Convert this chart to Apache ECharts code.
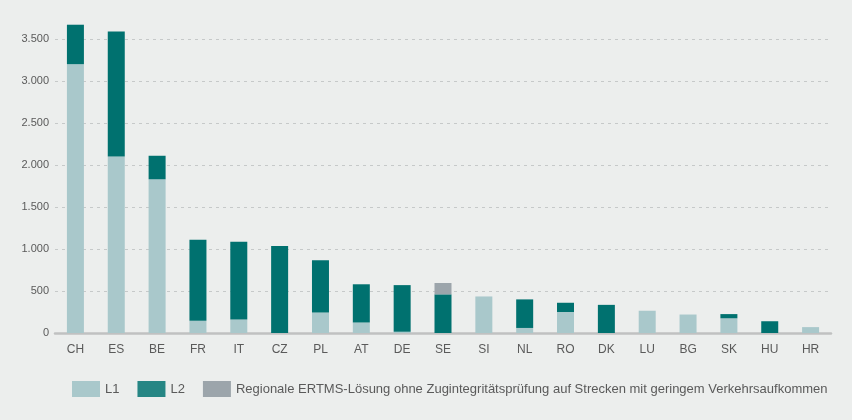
<!DOCTYPE html>
<html>
<head>
<meta charset="utf-8">
<script src="https://cdn.jsdelivr.net/npm/echarts@6/dist/echarts.min.js"></script>
<style>
    html, body { margin: 0; padding: 0; background: #eceeed; }
    #chart { width: 852px; height: 420px; }
</style>
</head>
<body>
<div id="chart"></div>
<script>
// countries, values in km
const countries = ['CH', 'ES', 'BE', 'FR', 'IT', 'CZ', 'PL', 'AT', 'DE', 'SE', 'SI', 'NL', 'RO', 'DK', 'LU', 'BG', 'SK', 'HU', 'HR'];
const l1Values = [3200, 2100, 1830, 145, 160, 0, 245, 125, 15, 0, 435, 60, 250, 0, 265, 220, 175, 0, 70];
const l2Values = [470, 1490, 280, 965, 925, 1035, 620, 455, 555, 460, 0, 340, 110, 335, 0, 0, 50, 140, 0];
const regionalValues = [0, 0, 0, 0, 0, 0, 0, 0, 0, 135, 0, 0, 0, 0, 0, 0, 0, 0, 0];
const seriesNames = ['L1', 'L2', 'Regionale ERTMS-Lösung ohne Zugintegritätsprüfung auf Strecken mit geringem Verkehrsaufkommen'];

var chart = echarts.init(document.getElementById('chart'));

var font = "'Liberation Sans', Arial, sans-serif";

var option = {
    backgroundColor: '#eceeed',
    animation: false,
    color: ['#a9c8cb', '#00716f', '#9ca5ab'],
    textStyle: { fontFamily: font },
    legend: {
        data: [
            { name: seriesNames[0] },
            { name: seriesNames[1], itemStyle: { color: '#268684' } }, // legend swatch looks lighter
            { name: seriesNames[2] }
        ],
        left: 67,
        top: 376,
        itemWidth: 28,
        itemHeight: 16,
        itemGap: 18,
        icon: 'rect',
        textStyle: {
            fontSize: 13,
            color: '#5a5a5a',
            fontFamily: font
        }
    },
    grid: {
        left: 55,
        right: 21,
        top: 39,
        bottom: 87
    },
    xAxis: {
        type: 'category',
        data: countries,
        axisTick: { show: false },
        axisLine: {
            lineStyle: { color: '#c0c1c1', width: 2.5 }
        },
        axisLabel: {
            interval: 0,
            fontSize: 12,
            color: '#5a5a5a',
            margin: 11
        }
    },
    yAxis: {
        type: 'value',
        min: 0,
        max: 3500,
        interval: 500,
        axisLine: { show: false },
        axisTick: { show: false },
        axisLabel: {
            fontSize: 11,
            color: '#5a5a5a',
            margin: 6,
            formatter: function (v) {
                return v.toString().replace(/\B(?=(\d{3})+(?!\d))/g, '.');
            }
        },
        splitLine: {
            lineStyle: { color: '#c6c9c9', type: [3, 4], width: 1 }
        }
    },
    series: [
        {
            name: seriesNames[0],
            type: 'bar',
            stack: 'total',
            barWidth: 17,
            clip: false,
            data: l1Values
        },
        {
            name: seriesNames[1],
            type: 'bar',
            stack: 'total',
            barWidth: 17,
            clip: false,
            data: l2Values
        },
        {
            name: seriesNames[2],
            type: 'bar',
            stack: 'total',
            barWidth: 17,
            clip: false,
            data: regionalValues
        }
    ]
};
chart.setOption(option);
</script>
</body>
</html>
